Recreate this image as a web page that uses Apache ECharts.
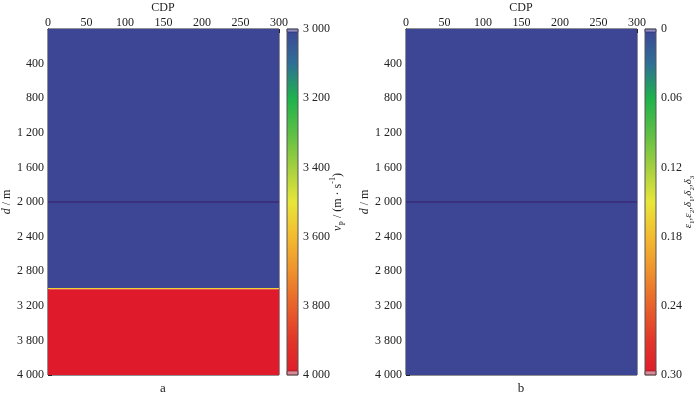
<!DOCTYPE html>
<html>
<head>
<meta charset="utf-8">
<style>
  html, body { margin: 0; padding: 0; background: #fff; }
  #chart { width: 700px; height: 397px; }
</style>
<script src="https://cdn.jsdelivr.net/npm/echarts@6/dist/echarts.min.js"></script>
</head>
<body>
<div id="chart"></div>
<script>
// CDP axis
const cdpMin = 0
const cdpMax = 300
const cdpStep = 50

// depth axis (labels as printed in the figure)
const depthMax = 4000
const depthStep = 400
const depthLabels = ['', '400', '800', '1 200', '1 600', '2 000', '2 400', '2 800', '3 200', '3 800', '4 000']

// panel a: vp layers
const layerTopA = [0, 2995, 3008]
const layerBottomA = [2995, 3008, 4000]
const vpValues = [3000, 3550, 4000]

// panel b: anisotropy parameters (all zero)
const layerTopB = [0]
const layerBottomB = [4000]
const anisoValues = [0]

// thin marker line at 2000 m in both panels
const markerDepth = 2000

// colour bars
const vpRange = [3000, 4000]
const vpTicks = ['3 000', '3 200', '3 400', '3 600', '3 800', '4 000']
const anisoRange = [0, 0.3]
const anisoTicks = ['0', '0.06', '0.12', '0.18', '0.24', '0.30']

const palette = ['#3d4595', '#2f6f96', '#1eb24c', '#5cbf45', '#a4cf3f', '#e8e63a',
  '#f3bb30', '#ef912d', '#e9622b', '#e2362a', '#df1a2a']

const font = 'Liberation Serif'
const textColor = '#222'

const chartEl = document.getElementById('chart')
const chart = echarts.init(chartEl)

const layerData = (tops, bottoms, vals) =>
  tops.map((t, i) => [cdpMin, cdpMax, t, bottoms[i], vals[i]])

const renderLayer = (params, api) => {
  const p0 = api.coord([api.value(0), api.value(2)])
  const p1 = api.coord([api.value(1), api.value(3)])
  return {
    type: 'rect',
    shape: { x: p0[0], y: p0[1], width: p1[0] - p0[0], height: p1[1] - p0[1] },
    style: { fill: api.visual('color') }
  }
}

const gradientStops = palette.map((c, i) => ({ offset: i / (palette.length - 1), color: c }))

const renderBar = (params, api) => {
  const p0 = api.coord([0, api.value(1)])
  const p1 = api.coord([1, api.value(2)])
  const x = p0[0], y = p0[1], w = p1[0] - p0[0], h = p1[1] - p0[1]
  return {
    type: 'group',
    children: [
      { type: 'rect', shape: { x, y, width: w, height: h },
        style: { fill: new echarts.graphic.LinearGradient(0, 0, 0, 1, gradientStops) } },
      { type: 'rect', shape: { x, y, width: w, height: 3 },
        style: { fill: '#8e8ac6', stroke: '#2e2e66', lineWidth: 0.6 } },
      { type: 'rect', shape: { x, y: y + h - 4, width: w, height: 4 },
        style: { fill: '#d98a96', stroke: '#7a2030', lineWidth: 0.6 } },
      { type: 'rect', shape: { x, y, width: w, height: h },
        style: { fill: 'none', stroke: '#555', lineWidth: 1 } }
    ]
  }
}

const labelStyle = { fontFamily: font, fontSize: 12, color: textColor }

const mainX = (gridIndex) => ({
  gridIndex,
  type: 'value',
  position: 'top',
  min: cdpMin,
  max: cdpMax,
  interval: cdpStep,
  axisLine: { show: true, lineStyle: { color: '#222', width: 1 } },
  axisTick: { show: true, inside: true, length: 4, lineStyle: { color: '#222' } },
  axisLabel: { ...labelStyle, margin: 0 },
  splitLine: { show: false }
})

const mainY = (gridIndex) => ({
  gridIndex,
  type: 'value',
  inverse: true,
  min: 0,
  max: depthMax,
  interval: depthStep,
  name: '{i|d} / m',
  nameLocation: 'middle',
  nameRotate: 90,
  nameGap: 31,
  nameTextStyle: {
    fontFamily: font, fontSize: 12, color: textColor,
    rich: { i: { fontFamily: font, fontSize: 12, fontStyle: 'italic', color: textColor } }
  },
  axisLine: { show: true, lineStyle: { color: '#222', width: 1 } },
  axisTick: { show: true, inside: true, length: 4, lineStyle: { color: '#222' } },
  axisLabel: { ...labelStyle, margin: 4, formatter: (v) => depthLabels[Math.round(v / depthStep)] ?? '' },
  splitLine: { show: false }
})

const barX = (gridIndex) => ({
  gridIndex, type: 'value', min: 0, max: 1, show: false
})

const barY = (gridIndex, range, ticks) => ({
  gridIndex,
  type: 'value',
  position: 'right',
  inverse: true,
  min: range[0],
  max: range[1],
  interval: (range[1] - range[0]) / (ticks.length - 1),
  axisLine: { show: false },
  axisTick: { show: false },
  axisLabel: {
    ...labelStyle, margin: 5,
    formatter: (v) => ticks[Math.round((v - range[0]) / ((range[1] - range[0]) / (ticks.length - 1)))] ?? ''
  },
  splitLine: { show: false }
})

const vpRich = {
  i: { fontFamily: font, fontSize: 12, fontStyle: 'italic', fill: textColor, lineHeight: 18 },
  s: { fontFamily: font, fontSize: 8, fill: textColor, verticalAlign: 'bottom', lineHeight: 18 },
  t: { fontFamily: font, fontSize: 12, fill: textColor, lineHeight: 18 },
  u: { fontFamily: font, fontSize: 8, fill: textColor, verticalAlign: 'top', lineHeight: 18 }
}
const anisoRich = {
  i: { fontFamily: font, fontSize: 11, fontStyle: 'italic', fill: textColor, lineHeight: 16 },
  s: { fontFamily: font, fontSize: 7, fill: textColor, verticalAlign: 'bottom', lineHeight: 16 }
}

const markerLine = (xAxisIndex, yAxisIndex) => ({
  type: 'line',
  xAxisIndex, yAxisIndex,
  data: [[cdpMin, markerDepth], [cdpMax, markerDepth]],
  symbol: 'none',
  silent: true,
  lineStyle: { color: '#3a1d66', width: 1 },
  z: 3
})

const plainText = (text, x, y, size) => ({
  type: 'text', x, y,
  style: { text, fontFamily: font, fontSize: size, fill: textColor, align: 'center', verticalAlign: 'middle' }
})

const sideName = (text, x, rich) => ({
  type: 'text', x, y: 202, rotation: Math.PI / 2,
  style: { text, rich, fontFamily: font, fontSize: 12, fill: textColor, align: 'center', verticalAlign: 'middle' }
})

const gridBase = { outerBoundsMode: 'none', containLabel: false }

const option = {
  backgroundColor: '#fff',
  animation: false,
  textStyle: { fontFamily: font },
  grid: [
    { ...gridBase, left: 48, top: 29, width: 231, height: 346, show: true, borderColor: '#222', borderWidth: 1 },
    { ...gridBase, left: 287, top: 29, width: 11, height: 346 },
    { ...gridBase, left: 406, top: 29, width: 231, height: 346, show: true, borderColor: '#222', borderWidth: 1 },
    { ...gridBase, left: 645, top: 29, width: 11, height: 346 }
  ],
  xAxis: [mainX(0), barX(1), mainX(2), barX(3)],
  yAxis: [mainY(0), barY(1, vpRange, vpTicks), mainY(2), barY(3, anisoRange, anisoTicks)],
  visualMap: [
    { show: false, seriesIndex: 0, dimension: 4, min: vpRange[0], max: vpRange[1],
      inRange: { color: palette } },
    { show: false, seriesIndex: 3, dimension: 4, min: anisoRange[0], max: anisoRange[1],
      inRange: { color: palette } }
  ],
  graphic: [
    plainText('CDP', 163, 8, 12),
    plainText('CDP', 521, 8, 12),
    plainText('a', 163, 389, 13),
    plainText('b', 521, 389, 13),
    sideName('{i|v}{s|P}{t| / (m · s}{u|-1}{t|)}', 338, vpRich),
    sideName('{i|ε}{s|1}{i|,ε}{s|2}{i|,δ}{s|1}{i|,δ}{s|2}{i|,δ}{s|3}', 688, anisoRich)
  ],
  series: [
    {
      type: 'custom', xAxisIndex: 0, yAxisIndex: 0,
      renderItem: renderLayer,
      encode: { x: [0, 1], y: [2, 3] },
      data: layerData(layerTopA, layerBottomA, vpValues),
      clip: true
    },
    markerLine(0, 0),
    {
      type: 'custom', xAxisIndex: 1, yAxisIndex: 1,
      renderItem: renderBar,
      encode: { x: 0, y: [1, 2] },
      data: [[0, vpRange[0], vpRange[1]]]
    },
    {
      type: 'custom', xAxisIndex: 2, yAxisIndex: 2,
      renderItem: renderLayer,
      encode: { x: [0, 1], y: [2, 3] },
      data: layerData(layerTopB, layerBottomB, anisoValues),
      clip: true
    },
    markerLine(2, 2),
    {
      type: 'custom', xAxisIndex: 3, yAxisIndex: 3,
      renderItem: renderBar,
      encode: { x: 0, y: [1, 2] },
      data: [[0, anisoRange[0], anisoRange[1]]]
    }
  ]
}

chart.setOption(option)
window.addEventListener('resize', () => chart.resize())
</script>
</body>
</html>
